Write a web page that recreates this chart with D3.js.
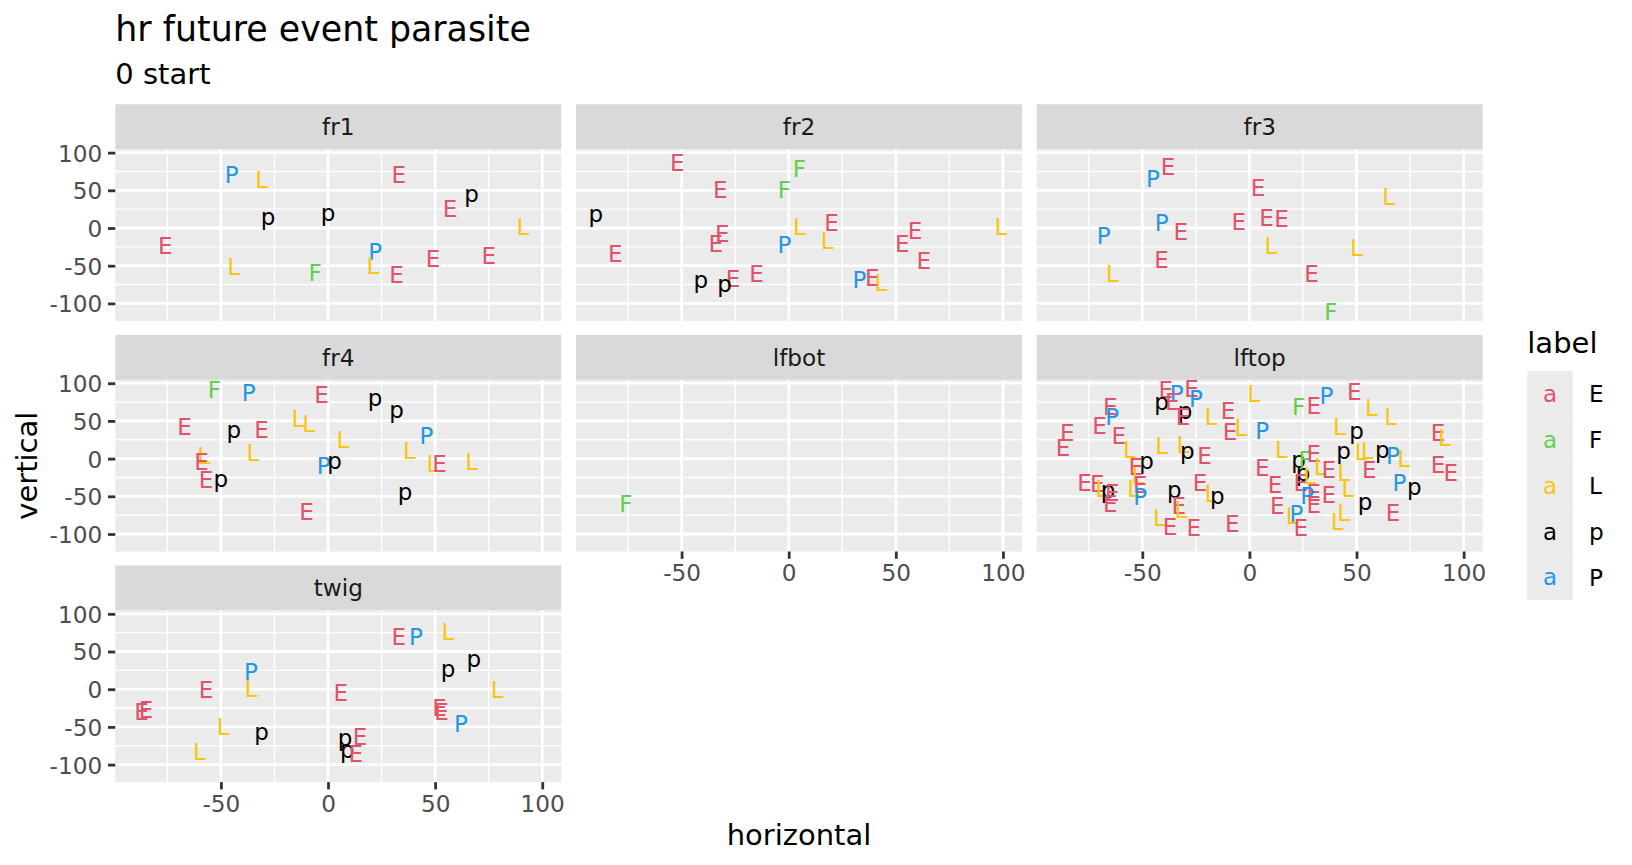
<!DOCTYPE html>
<html><head><meta charset="utf-8">
<script src="https://cdn.jsdelivr.net/npm/d3@7"></script>
<style>body{margin:0;background:#fff} svg{display:block}</style>
</head><body>
<script>
// ---------------- data ----------------
const facets = ["fr1","fr2","fr3","fr4","lfbot","lftop","twig"];
const labelLevels = ["E","F","L","p","P"];
const labelColors = ["#DF536B","#61D04F","#F5C710","#000000","#2297E6"];
const xTicks = [-50,0,50,100];
const yTicks = [-100,-50,0,50,100];
const xMinor = [-75,-25,25,75];
const yMinor = [-75,-25,25,75];

const fr1 = [["P",-45,71],["L",-31,64],["E",33,71],["E",57,26],["p",67,45],["p",-28,15],["p",0,21],
  ["L",91,2],["E",-76,-23],["L",-44,-51],["F",-6,-59],["P",22,-31],["L",21,-50],["E",32,-62],["E",49,-41],["E",75,-37]];
const fr2 = [["E",-52,87],["F",5,79],["E",-32,51],["F",-2,51],["p",-90,19],["E",-31,-7],["E",-34,-21],["E",-81,-34],
  ["L",5,2],["E",20,7],["P",-2,-22],["L",18,-17],["E",59,-4],["E",53,-21],["E",63,-43],["E",-15,-60],["E",-26,-67],
  ["p",-41,-68],["p",-30,-74],["P",33,-69],["E",39,-66],["L",43,-72],["L",99,2]];
const fr3 = [["E",-38,82],["P",-45,65],["E",4,53],["L",65,41],["P",-41,7],["E",-32,-5],["E",-5,9],["E",8,14],["E",15,13],
  ["P",-68,-10],["L",10,-23],["L",50,-26],["E",-41,-42],["L",-64,-61],["E",29,-60],["F",38,-111]];
const fr4 = [["F",-53,92],["P",-37,88],["E",-3,85],["p",22,81],["p",32,65],["E",-67,42],["p",-44,38],["E",-31,38],
  ["L",-14,53],["L",-9,46],["L",7,25],["P",46,30],["L",-35,8],["L",38,11],["L",-58,4],["E",-59,-4],["P",-2,-9],["p",3,-2],
  ["L",49,-7],["E",52,-7],["L",67,-4],["E",-57,-28],["p",-50,-27],["p",36,-44],["E",-10,-70]];
const lfbot = [["F",-76,-60]];
const lftop = [["E",-39,91],["E",-27,93],["P",-34,86],["P",-25,79],["p",-41,76],["E",-36,76],["p",-30,63],["E",-31,56],
  ["E",-65,69],["P",-64,56],["E",-70,44],["E",-61,31],["E",-85,34],["E",-87,15],["L",-56,12],["L",-41,17],["L",2,86],
  ["L",-18,56],["E",-10,63],["E",-9,36],["L",-4,41],["P",6,37],["L",-31,19],["p",-29,10],["E",-21,4],["E",6,-12],
  ["p",-48,-2],["E",-53,-11],["L",-52,-23],["E",-51,-34],["E",-77,-32],["E",-71,-33],["L",-69,-40],["p",-66,-41],
  ["E",-64,-45],["E",-65,-60],["L",-54,-40],["P",-51,-50],["p",-35,-41],["E",-33,-62],["L",-32,-67],["E",-23,-32],
  ["L",-18,-46],["p",-15,-49],["L",-42,-78],["E",-37,-90],["E",-26,-92],["E",-8,-86],
  ["E",49,89],["P",36,83],["E",30,70],["F",23,69],["L",57,67],["L",66,56],["L",42,43],["p",50,37],["E",88,34],["L",91,28],
  ["L",15,12],["p",44,10],["L",52,9],["L",55,10],["p",62,12],["P",67,4],["L",72,0],["E",88,-8],["E",94,-19],
  ["p",23,-1],["F",26,-1],["E",30,6],["L",33,-10],["E",37,-14],["p",25,-18],["E",24,-32],["L",28,-23],["E",56,-14],
  ["L",44,-18],["E",30,-45],["E",37,-48],["L",46,-40],["P",27,-49],["E",30,-61],["P",70,-32],["p",77,-37],["p",54,-57],
  ["E",67,-71],["L",44,-71],["L",41,-84],["E",13,-62],["E",12,-34],["L",20,-75],["P",22,-73],["E",24,-91]];
const twig = [["E",33,70],["P",41,70],["L",56,76],["p",68,41],["p",56,27],["L",79,-1],["P",-36,23],["L",-36,1],
  ["E",-57,0],["E",6,-4],["E",-87,-30],["E",-85,-27],["E",52,-24],["E",53,-30],["P",62,-45],["L",-49,-50],
  ["p",-31,-56],["L",-60,-83],["E",15,-63],["p",8,-64],["p",9,-80],["E",13,-86]];
const facetData = [fr1, fr2, fr3, fr4, lfbot, lftop, twig];

// ---------------- layout ----------------
const W = 1632, H = 865;
const FONT = "'DejaVu Sans', Verdana, sans-serif";
const panelW = 446, panelH = 171.6, stripH = 45;
const colX = [115.3, 576, 1036.7];
const rowY = [104.3, 334.9, 565.5];

const svg = d3.select("body").append("svg")
  .attr("width", W).attr("height", H)
  .style("font-family", FONT);

svg.append("rect").attr("width", W).attr("height", H).attr("fill", "#fff");

const x = d3.scaleLinear().domain([-99.3, 108.9]).range([0, panelW]);
const y = d3.scaleLinear().domain([-123.2, 104.4]).range([panelH, 0]);
const color = d3.scaleOrdinal().domain(labelLevels).range(labelColors);

const defs = svg.append("defs");
defs.append("clipPath").attr("id", "pclip").append("rect")
  .attr("width", panelW).attr("height", panelH);

facets.forEach((name, i) => {
  const col = i % 3, row = Math.floor(i / 3);
  const g = svg.append("g").attr("transform", `translate(${colX[col]},${rowY[row]})`);
  // strip
  g.append("rect").attr("width", panelW).attr("height", stripH).attr("fill", "#D9D9D9");
  g.append("text").attr("x", panelW / 2).attr("y", stripH / 2).attr("dy", "0.365em")
    .attr("text-anchor", "middle").attr("font-size", 23.2).attr("fill", "#1A1A1A").text(name);
  // panel
  const p = g.append("g").attr("transform", `translate(0,${stripH})`);
  p.append("rect").attr("width", panelW).attr("height", panelH).attr("fill", "#EBEBEB");
  p.selectAll(".xmin").data(xMinor).enter().append("line")
    .attr("x1", d => x(d)).attr("x2", d => x(d)).attr("y1", 0).attr("y2", panelH)
    .attr("stroke", "#fff").attr("stroke-width", 1.4);
  p.selectAll(".ymin").data(yMinor).enter().append("line")
    .attr("y1", d => y(d)).attr("y2", d => y(d)).attr("x1", 0).attr("x2", panelW)
    .attr("stroke", "#fff").attr("stroke-width", 1.4);
  p.selectAll(".xmaj").data(xTicks).enter().append("line")
    .attr("x1", d => x(d)).attr("x2", d => x(d)).attr("y1", 0).attr("y2", panelH)
    .attr("stroke", "#fff").attr("stroke-width", 2.8);
  p.selectAll(".ymaj").data(yTicks).enter().append("line")
    .attr("y1", d => y(d)).attr("y2", d => y(d)).attr("x1", 0).attr("x2", panelW)
    .attr("stroke", "#fff").attr("stroke-width", 2.8);
  // labels
  p.append("g").attr("clip-path", "url(#pclip)")
    .selectAll("text").data(facetData[i]).enter().append("text")
    .attr("x", d => x(d[1])).attr("y", d => y(d[2])).attr("dy", "0.365em")
    .attr("text-anchor", "middle").attr("font-size", 23)
    .attr("fill", d => color(d[0])).text(d => d[0]);

  // y axis on left column
  if (col === 0) {
    const ax = p.append("g").call(d3.axisLeft(y).tickValues(yTicks).tickSize(7.3).tickPadding(5.8).tickFormat(d => String(d)));
    ax.select(".domain").remove();
    ax.selectAll("line").attr("stroke", "#333333").attr("stroke-width", 2.8);
    ax.selectAll("text").attr("font-size", 23.2).attr("fill", "#4D4D4D").attr("dy", "0.365em").style("font-family", FONT);
  }
  // x axis at bottom of each column
  const lastInCol = (i + 3 >= facets.length);
  if (lastInCol) {
    const ax = p.append("g").attr("transform", `translate(0,${panelH})`)
      .call(d3.axisBottom(x).tickValues(xTicks).tickSize(7.3).tickPadding(5.8).tickFormat(d => String(d)));
    ax.select(".domain").remove();
    ax.selectAll("line").attr("stroke", "#333333").attr("stroke-width", 2.8);
    ax.selectAll("text").attr("font-size", 23.2).attr("fill", "#4D4D4D").style("font-family", FONT);
  }
});

// titles
svg.append("text").attr("x", 115.3).attr("y", 41).attr("font-size", 34.8).attr("fill", "#000").text("hr future event parasite");
svg.append("text").attr("x", 115.3).attr("y", 83.5).attr("font-size", 29).attr("fill", "#000").text("0 start");
svg.append("text").attr("x", (colX[0] + colX[2] + panelW) / 2).attr("y", 845).attr("text-anchor", "middle")
  .attr("font-size", 29).attr("fill", "#000").text("horizontal");
svg.append("text").attr("transform", `translate(36.5,${(rowY[0] + stripH + rowY[2] + stripH + panelH) / 2}) rotate(-90)`)
  .attr("text-anchor", "middle").attr("font-size", 29).attr("fill", "#000").text("vertical");

// legend
const lg = svg.append("g").attr("transform", "translate(1527.3,371)");
lg.append("text").attr("x", 0).attr("y", -17.7).attr("font-size", 29).attr("fill", "#000").text("label");
const keyS = 45.8;
labelLevels.forEach((lv, k) => {
  lg.append("rect").attr("x", 0).attr("y", k * keyS).attr("width", 45.4).attr("height", keyS).attr("fill", "#EBEBEB");
  lg.append("text").attr("x", 22.7).attr("y", k * keyS + keyS / 2).attr("dy", "0.365em")
    .attr("text-anchor", "middle").attr("font-size", 23).attr("fill", color(lv)).text("a");
  lg.append("text").attr("x", 61.7).attr("y", k * keyS + keyS / 2).attr("dy", "0.365em")
    .attr("font-size", 23.2).attr("fill", "#000").text(lv);
});
</script>
</body></html>
